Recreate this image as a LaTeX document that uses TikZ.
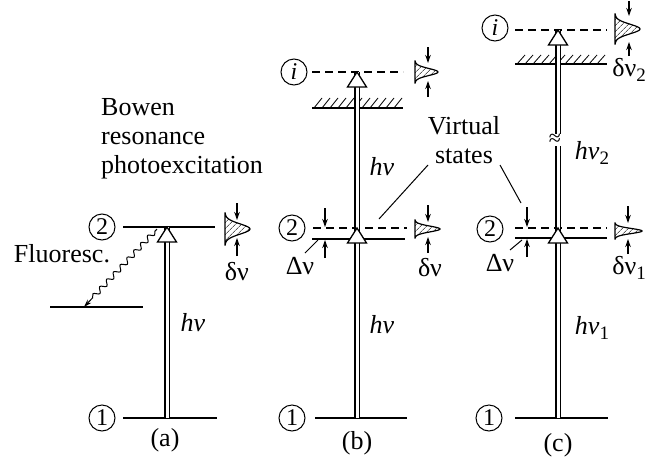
\documentclass[tikz,border=0pt]{standalone}
\usepackage{fontspec}
\setmainfont{Liberation Serif}
\usetikzlibrary{arrows.meta, decorations.pathmorphing, patterns.meta}

\tikzset{
  lvl/.style={line width=1.6pt},
  vlvl/.style={line width=1.6pt, dash pattern=on 8pt off 5pt},
  shaft/.style={double, double distance=3pt, line width=1.3pt},
  lbl/.style={font=\fontsize{26}{29}\selectfont, inner sep=1pt},
  numc/.style={circle, draw, line width=1pt, minimum size=26pt, inner sep=0pt, font=\fontsize{24}{24}\selectfont},
  fwhm/.style={line width=1.2pt, -{Stealth[length=8pt, width=5.5pt]}},
  leader/.style={line width=1pt},
  wavy/.style={line width=1pt, decorate, decoration={snake, amplitude=2.5pt, segment length=10pt, pre length=3pt, post length=8pt}, -{Stealth[length=8pt, width=5pt]}},
  pics/pumphead/.style={code={\draw[line width=1.3pt, fill=white] (-9.5,15) -- (0,0) -- (9.5,15) -- cycle;}},
  pics/lineprof/.style n args={2}{code={
    \fill[pattern={Lines[angle=45, distance=4pt, line width=0.5pt]}] (0,-#1) -- plot[domain=-#1:#1, samples=31, smooth] ({#2*exp(-(\x/(0.45*#1))^2)}, \x) -- (0,#1) -- cycle;
    \draw[line width=1.2pt] (0,-#1) -- plot[domain=-#1:#1, samples=31, smooth] ({#2*exp(-(\x/(0.45*#1))^2)}, \x) -- (0,#1) -- cycle;
  }},
}

\begin{document}
\begin{tikzpicture}[x=1pt, y=-1pt]

\useasboundingbox (0,0) rectangle (653,461);

% ============================================================
% (a) Bowen resonance photoexcitation
% ============================================================
\node[lbl, align=left, anchor=west] (bowen) at (100,139) {Bowen\\resonance\\photoexcitation};

\node[numc] (atwo) at (102,227) {2};
\node[numc] (aone) at (102,418) {1};
\draw[lvl] (123,227) -- (215,227);
\draw[lvl] (123,418) -- (217,418);
\draw[lvl] (50,307) -- (143,307);   % lower level reached by fluorescence

% fluorescence
\coordinate (afa) at (157,229);
\coordinate (afb) at (84,307);
\draw[wavy] (afa) -- (afb);
\node[lbl] (fluor) at (62,254) {Fluoresc.};

% pump photon
\coordinate (apa) at (167,418);
\coordinate (apb) at (167,227);
\draw[shaft] (apa) -- (apb);
\pic at (apb) {pumphead};
\node[lbl] (ahnu) at (193,323) {\itshape hν};

% line profile of level 2
\pic at (225,229) {lineprof={16}{25}};
\draw[fwhm] (237,203) -- (237,220);
\draw[fwhm] (237,256) -- (237,238);
\node[lbl] (adnu) at (237,272) {δν};

\node[lbl] (acap) at (165,440) {(a)};

% ============================================================
% (b) two-step via virtual state
% ============================================================
\node[numc] (bi) at (294,72) {\itshape i};
\node[numc] (btwo) at (292,228) {2};
\node[numc] (bone) at (292,418) {1};
\draw[vlvl] (312,72) -- (403,72);
\draw[lvl] (312,108) -- (403,108);
\foreach \hx in {314,322,...,396} \draw[line width=0.8pt] (\hx,108) -- (\hx+8,98);
\draw[vlvl] (313,228) -- (407,228);
\draw[lvl] (312,239) -- (405,239);
\draw[lvl] (315,418) -- (407,418);

% photons
\coordinate (bpa) at (357,418);
\coordinate (bpb) at (357,228);
\coordinate (bpc) at (357,72);
\draw[shaft] (bpb) -- (bpc);
\draw[shaft] (bpa) -- (bpb);
\pic at (bpb) {pumphead};
\pic at (bpc) {pumphead};
\node[lbl] (bhnub) at (382,167) {\itshape hν};
\node[lbl] (bhnua) at (382,325) {\itshape hν};

% detuning
\draw[fwhm] (325,208) -- (325,227);
\draw[fwhm] (325,258) -- (325,240);
\draw[leader] (305,253) -- (318,240);
\node[lbl] (bdel) at (300,266) {Δν};

% virtual states label
\node[lbl, align=center] (virt) at (464,140) {Virtual\\states};
\coordinate (bvs) at (379,219);
\draw[leader] (428,165) -- (bvs);

% line profiles
\pic at (415,72) {lineprof={11}{23}};
\draw[fwhm] (428,47) -- (428,63);
\draw[fwhm] (428,97) -- (428,81);
\pic at (415,229) {lineprof={9}{25}};
\draw[fwhm] (428,205) -- (428,222);
\draw[fwhm] (428,253) -- (428,237);
\node[lbl] (bdnu) at (430,268) {δν};

\node[lbl] (bcap) at (357,443) {(b)};

% ============================================================
% (c) two different photons
% ============================================================
\node[numc] (ci) at (495,28) {\itshape i};
\node[numc] (ctwo) at (490,229) {2};
\node[numc] (cone) at (489,418) {1};
\draw[vlvl] (515,30) -- (607,30);
\draw[lvl] (515,64) -- (607,64);
\foreach \hx in {517,525,...,597} \draw[line width=0.8pt] (\hx,64) -- (\hx+8,55);
\draw[vlvl] (515,228) -- (607,228);
\draw[lvl] (515,238) -- (607,238);
\draw[lvl] (515,418) -- (608,418);

% photons
\coordinate (cpa) at (558,418);
\coordinate (cpb) at (558,228);
\coordinate (cpc) at (558,30);
\draw[shaft] (cpb) -- (cpc);
\draw[shaft] (cpa) -- (cpb);
\pic at (cpb) {pumphead};
\pic at (cpc) {pumphead};
\node[fill=white, inner sep=0pt, font=\fontsize{22}{22}\selectfont] (cbrk) at (555,140) {≈};
\node[lbl] (chnub) at (592,153) {{\itshape hν}\raisebox{-5pt}{\fontsize{19}{19}\selectfont 2}};
\node[lbl] (chnua) at (592,328) {{\itshape hν}\raisebox{-5pt}{\fontsize{19}{19}\selectfont 1}};

% detuning
\draw[fwhm] (527,207) -- (527,227);
\draw[fwhm] (527,257) -- (527,239);
\draw[leader] (510,250) -- (522,240);
\node[lbl] (cdel) at (500,263) {Δν};
\coordinate (cvs) at (521,203);
\draw[leader] (500,165) -- (cvs);

% line profiles
\pic at (615,29) {lineprof={15}{25}};
\draw[fwhm] (629,1) -- (629,16);
\draw[fwhm] (629,56) -- (629,42);
\node[lbl] (cdnub) at (629,70) {δν\raisebox{-5pt}{\fontsize{19}{19}\selectfont 2}};
\pic at (615,231) {lineprof={8}{27}};
\draw[fwhm] (628,206) -- (628,223);
\draw[fwhm] (628,254) -- (628,239);
\node[lbl] (cdnua) at (629,268) {δν\raisebox{-5pt}{\fontsize{19}{19}\selectfont 1}};

\node[lbl] (ccap) at (558,445) {(c)};

\end{tikzpicture}
\end{document}
